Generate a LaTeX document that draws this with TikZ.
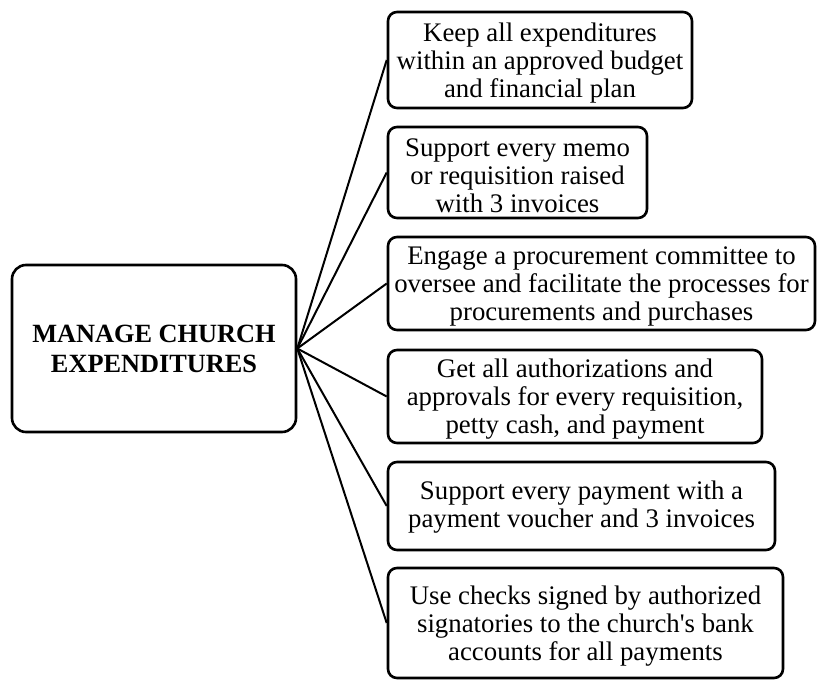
\documentclass[tikz,border=0pt]{standalone}
\usepackage{fontspec}
\setmainfont{Liberation Serif}[Ligatures=TeXOff]
\begin{document}
\begin{tikzpicture}[x=1pt,y=-1pt,
  item/.style={draw=black, line width=2.6pt, rounded corners=9pt, inner sep=0pt},
  caption/.style={align=center, inner sep=0pt, yshift=-3pt,
    font=\fontsize{26.8}{28}\selectfont},
  hub/.style={draw=black, line width=2.6pt, rounded corners=14pt, align=center,
    inner sep=0pt, font=\fontsize{26.3}{30}\selectfont\bfseries},
  link/.style={draw=black, line width=2pt}]
\useasboundingbox (0,0) rectangle (817,680);

\node[hub, minimum width=284pt, minimum height=167pt] (hub) at (154,348.5)
  {MANAGE CHURCH\\EXPENDITURES};

% outcome boxes
\node[item, minimum width=304pt, minimum height=96pt] (b1) at (540,60) {};
\node[item, minimum width=259pt, minimum height=91pt] (b2) at (517.5,172.5) {};
\node[item, minimum width=427pt, minimum height=93pt] (b3) at (601.5,283.5) {};
\node[item, minimum width=374pt, minimum height=93pt] (b4) at (575,396.5) {};
\node[item, minimum width=387pt, minimum height=88pt] (b5) at (581.5,506) {};
\node[item, minimum width=395pt, minimum height=110pt] (b6) at (585.5,623) {};

% box texts
\node[caption] (t1) at (b1.center)
  {Keep all expenditures\\within an approved budget\\and financial plan};
\node[caption] (t2) at (b2.center)
  {Support every memo\\or requisition raised\\with 3 invoices};
\node[caption] (t3) at (b3.center)
  {Engage a procurement committee to\\oversee and facilitate the processes for\\procurements and purchases};
\node[caption] (t4) at (b4.center)
  {Get all authorizations and\\approvals for every requisition,\\petty cash, and payment};
\node[caption, yshift=2pt] (t5) at (b5.center)
  {Support every payment with a\\payment voucher and 3 invoices};
\node[caption] (t6) at (b6.center)
  {Use checks signed by authorized\\signatories to the church's bank\\accounts for all payments};

\foreach \b in {b1,b2,b3,b4,b5,b6}
  \draw[link] (hub.east) -- (\b.west);
\end{tikzpicture}
\end{document}
